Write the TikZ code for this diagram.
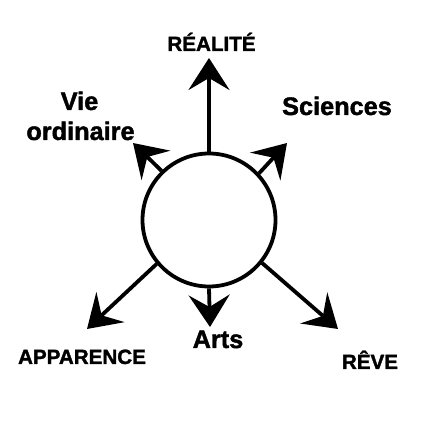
\documentclass[tikz,border=0pt]{standalone}
\usepackage{fontspec}
\setmainfont{Liberation Sans}
\newfontfamily\heavySans[FakeBold=1.6]{Liberation Sans Bold}
\usepackage{tikz}
\usetikzlibrary{arrows.meta, positioning}
\tikzstyle{bigText} = [font=\heavySans\fontsize{25.3}{30}\selectfont, anchor=base, inner sep=0pt]
\tikzstyle{capText} = [font=\heavySans\fontsize{20.6}{24}\selectfont, anchor=base, inner sep=0pt]
\tikzstyle{arrow} = [line width=3.8pt, -{Stealth[length=32pt, width=41pt, inset=12pt]}]
\tikzstyle{core} = [circle, draw=black, line width=3.8pt, minimum size=133pt, inner sep=0pt]

\begin{document}
\begin{tikzpicture}[x=1pt, y=1pt]
                                \useasboundingbox (0,0) rectangle (433,433);
                                \node (C) [core] at (209,213) {};
                                \coordinate (realTip) at (209,375);
                                \coordinate (vieTip) at (133,290);
                                \coordinate (sciTip) at (287,290);
                                \coordinate (appTip) at (87,104);
                                \coordinate (revTip) at (338,104);
                                \coordinate (artTip) at (210,106);
                                \draw [arrow] (C.90) -- (realTip);
                                \draw [arrow] (C.134) -- (vieTip);
                                \draw [arrow] (C.43) -- (sciTip);
                                \draw [arrow] (C.220) -- (appTip);
                                \draw [arrow] (C.321) -- (revTip);
                                \draw [arrow] (C.270) -- (artTip);
                                \node (real) [capText] at (211.5,382) {RÉALITÉ};
                                \node (vie) [bigText] at (79.5,323) {Vie};
                                \node (ord) [bigText] at (80.5,293) {ordinaire};
                                \node (sci) [bigText] at (337,318) {Sciences};
                                \node (art) [bigText] at (218,85) {Arts};
                                \node (app) [capText] at (82,69) {APPARENCE};
                                \node (rev) [capText] at (370,64) {RÊVE};
                            \end{tikzpicture}
\end{document}
